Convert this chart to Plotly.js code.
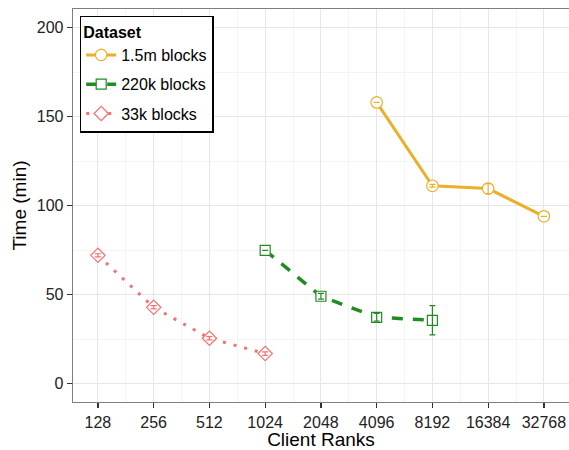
<!DOCTYPE html>
<html><head><meta charset="utf-8">
<script src="https://cdn.plot.ly/plotly-3.0.1.min.js"></script>
<style>html,body{margin:0;padding:0;background:#fff}#chart{width:569px;height:450px}</style>
</head><body><div id="chart"></div>
<script>
const ranks = [128, 256, 512, 1024, 2048, 4096, 8192, 16384, 32768];
const tickLabels = ranks.map(String);

const x15m = [4096, 8192, 16384, 32768];
const y15m = [158.0, 111.2, 109.6, 94.0];
const e15m = [0, 0.8, 2.8, 0];

const x220k = [1024, 2048, 4096, 8192];
const y220k = [74.9, 49.1, 37.3, 35.6];
const e220k = [0, 1.6, 2.2, 8.2];

const x33k = [128, 256, 512, 1024];
const y33k = [72.1, 42.9, 25.5, 16.9];
const e33k = [0.9, 0.9, 0.9, 1.0];

const cOrange = '#EBB02A', cGreen = '#228B22', cPink = '#F76F6F';

function trace(name, x, y, color, dash, symbol, size, width) {
  return {
    type: 'scatter', mode: 'lines+markers', name: name, x: x, y: y, legendgroup: name,
    line: {color: color, width: width, dash: dash},
    marker: {symbol: symbol, size: size, color: '#ffffff', line: {color: color, width: 1.2}}
  };
}
function errs(name, x, y, e, color) {
  return {
    type: 'scatter', mode: 'markers', name: name, x: x, y: y, legendgroup: name, showlegend: false,
    marker: {size: 1, color: 'rgba(0,0,0,0)'},
    error_y: {type: 'data', array: e, visible: true, color: color, thickness: 1.2, width: 3}
  };
}

const data = [
  trace('1.5m blocks', x15m, y15m, cOrange, 'solid', 'circle', 11.5, 3),
  trace('220k blocks', x220k, y220k, cGreen, '11px,10px', 'square', 10, 3.5),
  trace('33k blocks', x33k, y33k, cPink, '3px,8px', 'diamond', 11, 3),
  errs('1.5m blocks', x15m, y15m, e15m, cOrange),
  errs('220k blocks', x220k, y220k, e220k, cGreen),
  errs('33k blocks', x33k, y33k, e33k, cPink)
];

const minorX = [];
for (let i = 0; i < ranks.length - 1; i++) minorX.push(ranks[i] * Math.SQRT2);

const tickFont = {family: 'Liberation Sans, Arial, sans-serif', size: 16, color: '#222'};
const layout = {
  width: 569, height: 450,
  margin: {l: 73, r: 0, t: 9, b: 48},
  paper_bgcolor: '#fff', plot_bgcolor: '#fff',
  showlegend: true,
  font: {family: 'Liberation Sans, Arial, sans-serif', color: '#000'},
  xaxis: {
    type: 'log', range: [Math.log10(2) * 6.553, Math.log10(2) * 15.45],
    tickmode: 'array', tickvals: ranks, ticktext: tickLabels,
    tickfont: tickFont, ticks: 'outside', ticklen: 5, tickcolor: '#333', tickwidth: 1.2,
    showgrid: true, gridcolor: '#E6E6E6', gridwidth: 1,
    minor: {tickmode: 'array', tickvals: minorX, showgrid: true, gridcolor: '#F4F4F4', gridwidth: 1, ticks: ''},
    showline: true, linecolor: '#7F7F7F', linewidth: 1.3, mirror: true,
    zeroline: false,
    title: {text: 'Client Ranks', font: {size: 19, color: '#000'}, standoff: 1}
  },
  yaxis: {
    range: [-10.3, 210.5],
    tickmode: 'array', tickvals: [0, 50, 100, 150, 200],
    tickfont: tickFont, ticks: 'outside', ticklen: 5, tickcolor: '#333', tickwidth: 1.2,
    showgrid: true, gridcolor: '#E6E6E6', gridwidth: 1,
    minor: {tickmode: 'array', tickvals: [25, 75, 125, 175], showgrid: true, gridcolor: '#F4F4F4', gridwidth: 1, ticks: ''},
    showline: true, linecolor: '#7F7F7F', linewidth: 1.3, mirror: true,
    zeroline: false,
    title: {text: 'Time (min)', font: {size: 19, color: '#000'}, standoff: 5}
  },
  legend: {
    x: 0.0135, y: 0.983, xanchor: 'left', yanchor: 'top',
    bgcolor: '#fff', bordercolor: '#000', borderwidth: 1.5,
    font: {size: 16, color: '#000'},
    title: {text: '<b>Dataset</b>', font: {size: 16, color: '#000'}},
    tracegroupgap: 5.5, itemwidth: 30, traceorder: 'grouped'
  }
};

Plotly.newPlot('chart', data, layout, {displayModeBar: false, staticPlot: true});
</script></body></html>
